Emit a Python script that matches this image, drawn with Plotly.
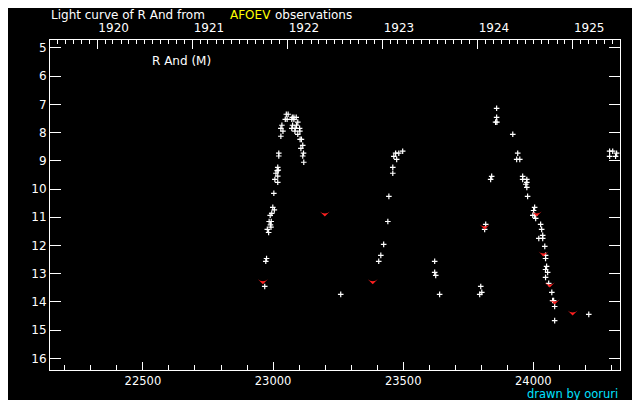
import datetime as dt
import plotly.graph_objects as go

# JD - 2400000 and visual magnitudes
white_jd = [22968, 22972, 22975, 22978, 22983, 22985, 22993, 22990, 22992,
            22989, 22995, 22999, 23005, 23003,
            23007, 23018, 23018, 23011, 23016, 23020, 23018,
            23022, 23022, 23030, 23038, 23030, 23034,
            23047, 23054, 23051, 23058,
            23074, 23080, 23089, 23072, 23080,
            23075, 23090, 23072, 23085, 23102, 23084, 23103,
            23095, 23095,
            23104, 23109, 23114, 23107, 23117, 23114, 23118,
            23260,
            23406, 23414, 23425, 23441, 23445, 23460, 23460, 23475, 23464, 23471, 23483, 23498,
            23621, 23621, 23625, 23640,
            23794, 23802, 23798, 23813, 23817,
            23836, 23840,
            23855, 23860, 23859, 23859,
            23921, 23940, 23936, 23948,
            23959, 23959, 23975, 23975, 23971, 23975, 23978,
            24005, 24001, 23998, 24005, 24009,
            24028, 24032, 24036, 24021, 24036, 24044,
            24047, 24047, 24051, 24047, 24055, 24047, 24059,
            24071, 24074, 24078, 24082, 24082,
            24213,
            24293, 24305, 24320, 24293, 24316]
white_mag = [13.45, 12.56, 12.46, 11.43, 11.54, 11.15, 11.15, 11.27, 11.35,
             10.93, 10.86, 10.65, 10.74, 10.15,
             9.66, 9.76, 9.54, 9.44, 9.35, 9.33, 9.23,
             8.73, 8.83, 8.13, 7.95, 7.85, 7.74,
             7.53, 7.53, 7.35, 7.35,
             7.46, 7.46, 7.46, 7.53, 7.53,
             7.74, 7.74, 7.85, 7.85, 7.85, 7.95, 7.95,
             7.63, 8.06,
             8.24, 8.24, 8.45, 8.56, 8.73, 8.83, 9.05,
             13.73,
             12.56, 12.35, 11.96, 11.15, 10.26, 9.44, 9.23, 8.95, 8.84, 8.73, 8.73, 8.66,
             12.56, 12.95, 13.06, 13.73,
             13.73, 13.66, 13.45, 11.43, 11.25,
             9.66, 9.55,
             7.63, 7.63, 7.46, 7.14,
             8.06, 8.73, 8.95, 8.95,
             9.55, 9.66, 9.66, 9.76, 9.83, 9.94, 10.26,
             10.65, 10.76, 10.93, 10.93, 11.04,
             11.25, 11.43, 11.64, 11.75, 11.75, 12.03,
             12.35, 12.46, 12.74, 12.85, 12.95, 13.13, 13.34,
             13.66, 13.95, 13.95, 14.16, 14.66,
             14.44,
             8.66, 8.66, 8.73, 8.84, 8.84]

red_jd = [22961, 23199, 23383, 23813, 24013, 24039, 24063, 24082, 24151]
red_mag = [13.37, 10.97, 13.37, 11.43, 10.97, 12.39, 13.49, 14.09, 14.48]

bottom_ticks = [22500, 23000, 23500, 24000]
mag_ticks = list(range(5, 17))
years = [1920, 1921, 1922, 1923, 1924, 1925]

X_RANGE = [22143, 24333]
Y_RANGE = [16.41, 4.72]

FONT = "DejaVu Sans"
JD_1920 = 22325
base = dt.date(1920, 1, 1)


def jd(d):
    return JD_1920 + (d - base).days


year_jd = [jd(dt.date(y, 1, 1)) for y in years]
month_jd = []
for y in range(1919, 1926):
    for m in range(2, 13):
        v = jd(dt.date(y, m, 1))
        if X_RANGE[0] <= v <= X_RANGE[1]:
            month_jd.append(v)

fig = go.Figure()
fig.add_trace(go.Scatter(
    x=white_jd, y=white_mag, mode="markers",
    marker=dict(symbol="cross-thin", size=4, color="white",
                line=dict(color="white", width=1.2)),
    hoverinfo="skip"))
fig.add_trace(go.Scatter(
    x=red_jd, y=red_mag, mode="markers",
    marker=dict(symbol="arrow-wide", angle=180, size=7, color="#ff2020",
                line=dict(width=0)),
    hoverinfo="skip"))
fig.add_trace(go.Scatter(x=[], y=[], xaxis="x2", mode="markers", hoverinfo="skip"))

tickfont = dict(family=FONT, size=12, color="white")

# page body has an 8px margin: figure is sized so the plot sits where the reference's does
fig.update_layout(
    width=632, height=392,
    paper_bgcolor="black", plot_bgcolor="black",
    margin=dict(l=42, r=20, t=32, b=30),
    showlegend=False,
    xaxis=dict(
        range=X_RANGE, showgrid=False, zeroline=False,
        showline=True, linecolor="white", linewidth=1,
        ticks="inside", ticklen=8, tickcolor="white", tickwidth=1,
        tickmode="array", tickvals=bottom_ticks,
        ticktext=[str(v) for v in bottom_ticks],
        minor=dict(tickmode="linear", tick0=0, dtick=100, ticks="inside",
                   ticklen=5, tickcolor="white", tickwidth=1, showgrid=False),
        tickfont=dict(family=FONT, size=11.5, color="white"),
    ),
    xaxis2=dict(
        range=X_RANGE, overlaying="x", side="top", anchor="y",
        showgrid=False, zeroline=False,
        showline=True, linecolor="white", linewidth=1,
        ticks="inside", ticklen=9, tickcolor="white", tickwidth=1,
        tickmode="array", tickvals=year_jd, ticktext=[str(y) for y in years],
        minor=dict(tickmode="array", tickvals=month_jd, ticks="inside",
                   ticklen=4, tickcolor="white", tickwidth=1, showgrid=False),
        ticklabelposition="outside right",
        ticklabelstandoff=2,
        tickfont=tickfont,
    ),
    yaxis=dict(
        range=Y_RANGE, showgrid=False, zeroline=False,
        showline=True, linecolor="white", linewidth=1, mirror="ticks",
        ticks="inside", ticklen=11, tickcolor="white", tickwidth=1,
        tickmode="array", tickvals=mag_ticks,
        ticktext=[str(v) for v in mag_ticks],
        tickfont=tickfont,
    ),
)

ann_font = dict(family=FONT, size=12, color="white")
TITLE_SHIFT = 25
fig.add_annotation(text="Light curve of R And from", xref="paper", yref="paper",
                   x=0.0, y=1.0, yshift=TITLE_SHIFT, xanchor="left", yanchor="middle",
                   showarrow=False, borderpad=0, font=ann_font)
fig.add_annotation(text="AFOEV", xref="paper", yref="paper",
                   x=(229 - 50) / 570, y=1.0, yshift=TITLE_SHIFT, xanchor="left", yanchor="middle",
                   showarrow=False, borderpad=0, font=dict(family=FONT, size=12, color="#ffff00"))
fig.add_annotation(text="observations", xref="paper", yref="paper",
                   x=(274 - 50) / 570, y=1.0, yshift=TITLE_SHIFT, xanchor="left", yanchor="middle",
                   showarrow=False, borderpad=0, font=ann_font)
fig.add_annotation(text="R And (M)", xref="paper", yref="paper",
                   x=(150 - 50) / 570, y=1 - (61 - 40) / 330, xanchor="left", yanchor="middle",
                   showarrow=False, font=ann_font)
fig.add_annotation(text="drawn by ooruri", xref="paper", yref="paper",
                   x=(619 - 50) / 570, y=(370 - 394) / 330, xanchor="right", yanchor="middle",
                   showarrow=False, borderpad=0, font=dict(family=FONT, size=11.5, color="#00e0ff"))

fig.write_html("out.html")
